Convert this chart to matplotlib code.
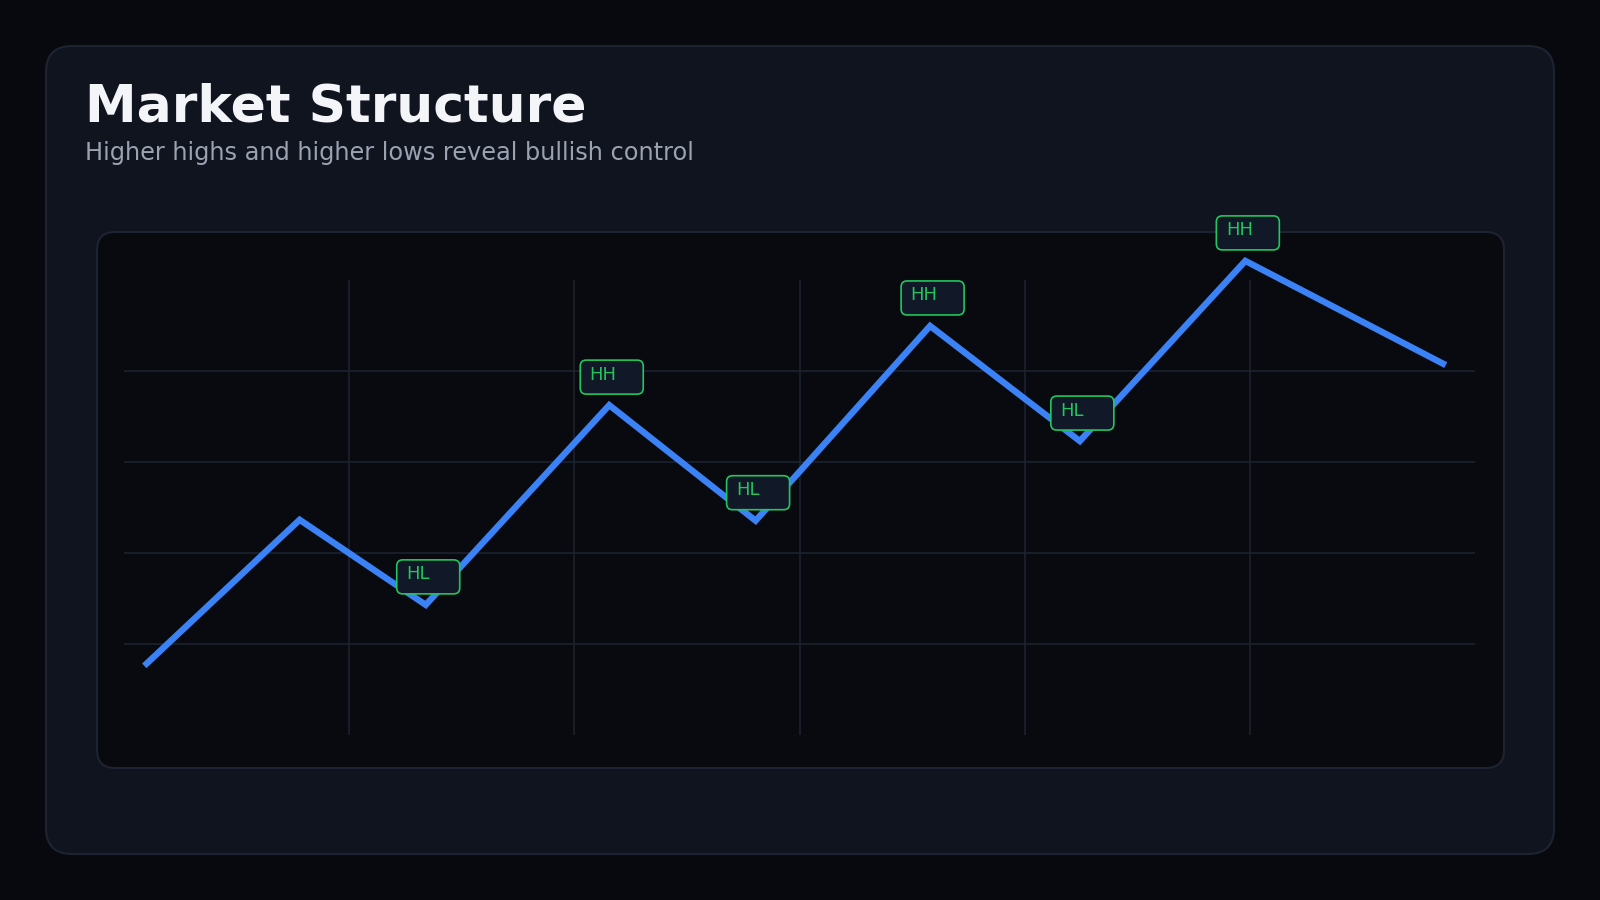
import matplotlib
matplotlib.use("Agg")
import matplotlib.pyplot as plt
from matplotlib.patches import FancyBboxPatch
from matplotlib.transforms import IdentityTransform

# swing points of the price path
swing_x = [1.8, 15.6, 26.8, 43.1, 56.1, 71.6, 84.9, 99.6, 117.4]
swing_y = [15.2, 47.3, 28.6, 72.5, 47.1, 89.9, 64.6, 104.2, 81.3]
# structure labels at swing points (index, text)
label_idx = [2, 3, 4, 5, 6, 7]
label_txt = ["HL", "HH", "HL", "HH", "HL", "HH"]

W, H = 1600, 900
BG = "#07090e"
CARD = "#10141f"
CARD_EDGE = "#1d2331"
PANEL = "#080a0f"
GRID = "#1c2230"
BLUE = "#3b82f6"
GREEN = "#22c55e"

fig = plt.figure(figsize=(16, 9), dpi=100)
fig.patch.set_facecolor(BG)


def px_box(x0, y0, x1, y1, r, face, edge, lw, z):
    # box in image pixel coords (top-left origin)
    p = FancyBboxPatch((x0, H - y1), x1 - x0, y1 - y0,
                       boxstyle="round,pad=0,rounding_size=%d" % r,
                       transform=IdentityTransform(), facecolor=face,
                       edgecolor=edge, linewidth=lw, zorder=z)
    fig.add_artist(p)
    return p


px_box(46, 46, 1554, 854, 26, CARD, CARD_EDGE, 1.5, 0)
px_box(97, 232, 1504, 768, 18, PANEL, CARD_EDGE, 1.5, 0.5)

fig.text(85 / W, 1 - 121.5 / H, "Market Structure", fontsize=37.4, fontweight="bold",
         color="#f3f5f9", va="baseline", ha="left")
fig.text(85 / W, 1 - 160 / H, "Higher highs and higher lows reveal bullish control",
         fontsize=17.3, color="#9aa3b2", va="baseline", ha="left")

ax = fig.add_axes([124 / W, 1 - 735 / H, 1351 / W, 455 / H])
ax.set_zorder(2)
ax.patch.set_alpha(0)
ax.set_xlim(0, 120)
ax.set_ylim(0, 100)
ax.set_xticks([20, 40, 60, 80, 100])
ax.set_yticks([20, 40, 60, 80])
ax.grid(True, color=GRID, linewidth=1.2)
ax.tick_params(length=0, labelbottom=False, labelleft=False)
for s in ax.spines.values():
    s.set_visible(False)

ax.plot(swing_x, swing_y, color=BLUE, linewidth=4.6, clip_on=False,
        solid_joinstyle="miter", solid_capstyle="butt", zorder=3)

for i, t in zip(label_idx, label_txt):
    dx, dy = ax.transData.transform((swing_x[i], swing_y[i]))
    px, py = dx, H - dy
    bx0, bx1 = px - 29, px + 34
    by0, by1 = py - 45, py - 11
    px_box(bx0, by0, bx1, by1, 6, "#111827", GREEN, 1.2, 5)
    fig.text((bx0 + 9.5) / W, 1 - (py - 25.5) / H, t, fontsize=13, color=GREEN,
             va="baseline", ha="left", zorder=6)

fig.savefig("out.png", dpi=100, facecolor=BG)
